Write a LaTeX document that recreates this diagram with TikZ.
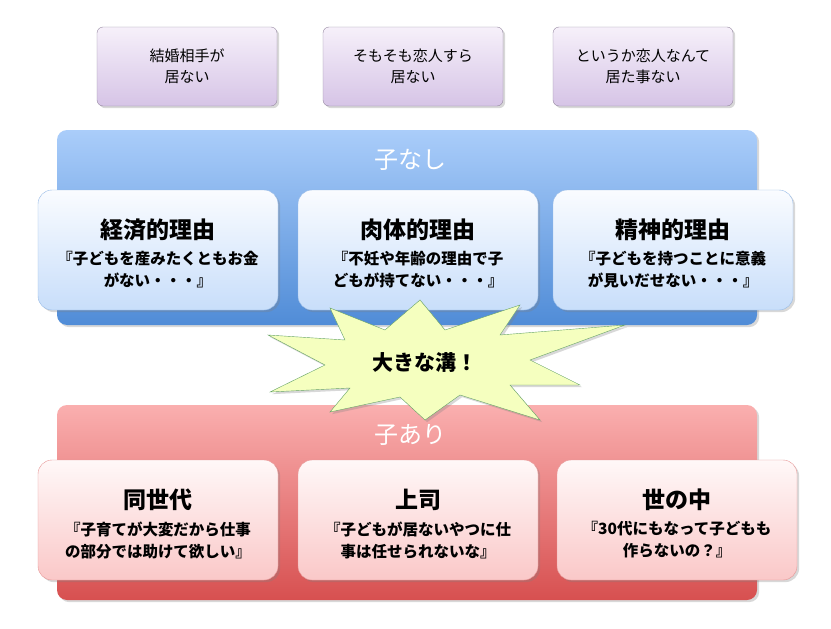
\documentclass[tikz,border=0pt]{standalone}
\usepackage{fontspec}
\newfontfamily\cjk{Noto Sans CJK JP}
\usetikzlibrary{shadows}
\definecolor{pur1}{RGB}{246,240,250}\definecolor{pur2}{RGB}{214,196,230}
\definecolor{blu1}{RGB}{170,205,250}\definecolor{blu2}{RGB}{80,140,215}
\definecolor{red1}{RGB}{250,175,175}\definecolor{red2}{RGB}{215,80,80}
\definecolor{ib1}{RGB}{250,252,255}\definecolor{ib2}{RGB}{200,222,250}
\definecolor{ir1}{RGB}{255,248,248}\definecolor{ir2}{RGB}{250,200,200}
\begin{document}
\begin{tikzpicture}[x=1pt,y=-1pt,font=\cjk,
 top/.style={draw=pur2!70!black,rounded corners=6pt,top color=pur1,bottom color=pur2,drop shadow={opacity=0.3}},
 big/.style={rounded corners=10pt,drop shadow={opacity=0.3}},
 ib/.style={draw=blu2!60,rounded corners=14pt,top color=ib1,bottom color=ib2,drop shadow={opacity=0.3}},
 ir/.style={draw=red2!60,rounded corners=14pt,top color=ir1,bottom color=ir2,drop shadow={opacity=0.3}},
 ttl/.style={font=\cjk\bfseries\fontsize{23}{26}\selectfont},
 sub/.style={font=\cjk\bfseries\fontsize{15.5}{22}\selectfont,align=center},
 tt/.style={font=\cjk\fontsize{15}{21}\selectfont,align=center},
 hd/.style={font=\cjk\fontsize{24}{26}\selectfont,text=white}]
\useasboundingbox (0,0) rectangle (831,629);
\fill[white] (0,0) rectangle (831,629);
\draw[top] (97,27) rectangle (277,106); \node[tt] (t1) at (187,66) {結婚相手が\\居ない};
\draw[top] (323,27) rectangle (503,106); \node[tt] (t2) at (413,66) {そもそも恋人すら\\居ない};
\draw[top] (553,27) rectangle (733,106); \node[tt] (t3) at (643,66) {というか恋人なんて\\居た事ない};
\shade[big,top color=blu1,bottom color=blu2] (57,130) rectangle (757,325);
\node[hd] (h1) at (410,160) {子なし};
\foreach \x/\n/\a/\b in {38/b1/経済的理由/{『子どもを産みたくともお金\\がない・・・』},298/b2/肉体的理由/{『不妊や年齢の理由で子\\どもが持てない・・・』},553/b3/精神的理由/{『子どもを持つことに意義\\が見いだせない・・・』}}{
 \draw[ib] (\x,190) rectangle ++(240,120);
 \node[ttl] (\n t) at (\x+120,230) {\a};
 \node[sub] (\n s) at (\x+120,270) {\b};}
\shade[big,top color=red1,bottom color=red2] (57,405) rectangle (757,600);
\node[hd] (h2) at (410,435) {子あり};
\foreach \x/\n/\a/\b in {38/r1/同世代/{『子育てが大変だから仕事\\の部分では助けて欲しい』},298/r2/上司/{『子どもが居ないやつに仕\\事は任せられないな』},557/r3/世の中/{『30代にもなって子どもも\\作らないの？』}}{
 \draw[ir] (\x,460) rectangle ++(240,120);
 \node[ttl] (\n t) at (\x+120,500) {\a};
 \node[sub] (\n s) at (\x+120,540) {\b};}
\draw[draw=green!40!black!60,fill=green!15!yellow!25,drop shadow={opacity=0.3}]
 (268,335)--(345,340)--(330,308)--(385,330)--(420,300)--(445,330)--(520,305)--(500,335)--(625,325)
 --(530,360)--(580,385)--(510,385)--(540,420)--(460,395)--(425,420)--(400,397)--(330,412)
 --(350,388)--(270,392)--(325,365)--cycle;
\node[font=\cjk\bfseries\fontsize{21}{24}\selectfont] (gap) at (425,362) {大きな溝！};
\end{tikzpicture}
\end{document}
